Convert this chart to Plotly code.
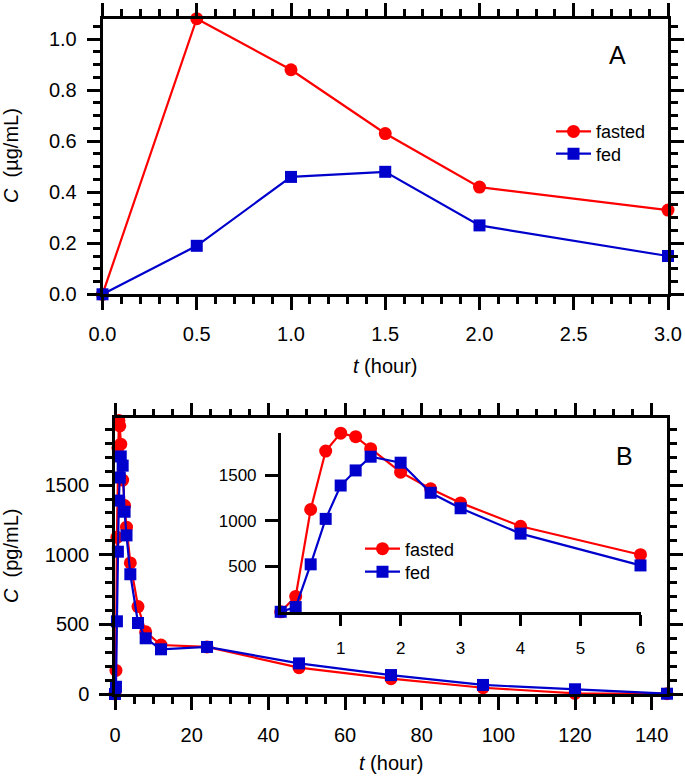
import plotly.graph_objects as go

# ---------------- Data ----------------
# Panel A (µg/mL)
tA = [0, 0.5, 1.0, 1.5, 2.0, 3.0]
fastedA = [0.0, 1.08, 0.88, 0.63, 0.42, 0.33]
fedA = [0.0, 0.19, 0.46, 0.48, 0.27, 0.15]

# Panel B (pg/mL)
tB = [0, 0.25, 0.5, 0.75, 1, 1.25, 1.5, 2, 2.5, 3, 4, 6, 8, 12, 24, 48, 72, 96, 120, 144]
fastedB = [0, 169, 1125, 1768, 1965, 1926, 1794, 1536, 1353, 1198, 941, 628,
           447, 352, 338, 189, 110, 45, 5, 2]
fedB = [0, 52, 522, 1022, 1389, 1555, 1706, 1640, 1309, 1139, 860, 510,
        400, 321, 338, 220, 136, 65, 34, 2]

# inset shows the first 6 hours
n_inset = sum(1 for t in tB if t <= 6)
tI, fastedI, fedI = tB[:n_inset], fastedB[:n_inset], fedB[:n_inset]

RED = "#ff0000"
BLUE = "#0000cc"
FONT = "Liberation Sans, Arial, Helvetica, sans-serif"
W, H = 685, 778


def px_x(p):
    return p / W


def px_y(p):
    return (H - p) / H


fig = go.Figure()


def add_pair(x, f, d, xa, ya, leg_f, leg_d, show):
    fig.add_trace(go.Scatter(
        x=x, y=f, mode="lines+markers", name="fasted",
        line=dict(color=RED, width=2.2),
        marker=dict(symbol="circle", size=13, color=RED),
        xaxis=xa, yaxis=ya, legend=leg_f, showlegend=show, cliponaxis=False))
    fig.add_trace(go.Scatter(
        x=x, y=d, mode="lines+markers", name="fed",
        line=dict(color=BLUE, width=2.2),
        marker=dict(symbol="square", size=12, color=BLUE),
        xaxis=xa, yaxis=ya, legend=leg_d, showlegend=show, cliponaxis=False))


add_pair(tA, fastedA, fedA, "x", "y", "legend", "legend3", True)
add_pair(tB, fastedB, fedB, "x2", "y2", "legend2", "legend4", False)
add_pair(tI, fastedI, fedI, "x3", "y3", "legend2", "legend4", True)

LW = 2.5
common = dict(showline=True, linecolor="black", linewidth=LW, ticks="outside",
              tickwidth=LW, tickcolor="black", showgrid=False, zeroline=False,
              automargin=False,
              tickfont=dict(family=FONT, size=20, color="black"))
minor_common = dict(ticks="outside", ticklen=7, tickwidth=LW, tickcolor="black", showgrid=False)
small_font = dict(family=FONT, size=17, color="black")


def leg(xp, yp):
    return dict(x=px_x(xp), y=px_y(yp), xanchor="left", yanchor="middle",
                bgcolor="rgba(0,0,0,0)", itemwidth=35, borderwidth=0,
                font=dict(family=FONT, size=18, color="black"))


fig.update_layout(
    template="none",
    width=W, height=H,
    margin=dict(l=0, r=0, t=0, b=0, autoexpand=False),
    paper_bgcolor="white", plot_bgcolor="rgba(0,0,0,0)",
    font=dict(family=FONT, color="black"),
    showlegend=True,
    xaxis=dict(domain=[px_x(102.5), px_x(668)], range=[0, 3.0], anchor="y",
               dtick=0.5, tickformat=".1f", ticklen=13, mirror="ticks",
               ticklabelstandoff=7,
               minor=dict(dtick=0.1, **minor_common), **common),
    yaxis=dict(domain=[px_y(294.3), px_y(18.7)], range=[0, 1.08], anchor="x",
               dtick=0.2, tickformat=".1f", ticklen=13, mirror="ticks",
               ticklabelstandoff=6,
               minor=dict(dtick=0.05, **minor_common), **common),
    xaxis2=dict(domain=[px_x(115), px_x(667)], range=[0, 144], anchor="y2",
                dtick=20, ticklen=13, mirror="ticks", ticklabelstandoff=8,
                minor=dict(dtick=5, **minor_common), **common),
    yaxis2=dict(domain=[px_y(694), px_y(418.3)], range=[0, 1980], anchor="x2",
                dtick=500, ticklen=13, mirror="ticks", ticklabelstandoff=6,
                minor=dict(dtick=100, **minor_common), **common),
    xaxis3=dict(domain=[px_x(280.7), px_x(640.5)], range=[0, 6], anchor="y3",
                tickvals=[1, 2, 3, 4, 5, 6], ticklen=11, ticklabelstandoff=8,
                **{**common, "tickfont": small_font}),
    yaxis3=dict(domain=[px_y(611.8), px_y(432.7)], range=[0, 1970], anchor="x3",
                tickvals=[500, 1000, 1500], ticklen=13, ticklabelstandoff=5,
                **{**common, "tickfont": small_font}),
    legend=leg(551, 131.7),
    legend3=leg(551, 154),
    legend2=leg(360, 549),
    legend4=leg(360, 572),
)

ann = []


def add_text(text, xp, yp, size, angle=0):
    ann.append(dict(text=text, x=px_x(xp), y=px_y(yp), xref="paper", yref="paper",
                    xanchor="center", yanchor="middle", textangle=angle,
                    showarrow=False, font=dict(family=FONT, size=size, color="black")))


add_text("A", 617, 55, 25)
add_text("B", 624, 456, 25)
add_text("<i>C</i>\u00a0\u00a0(µg/mL)", 11, 156, 20, -90)
add_text("<i>C</i>\u00a0\u00a0(pg/mL)", 11, 556, 20, -90)
add_text("<i>t</i> (hour)", 385, 366, 20)
add_text("<i>t</i> (hour)", 391, 763, 20)
fig.update_layout(annotations=ann)

fig.write_html("out.html")
